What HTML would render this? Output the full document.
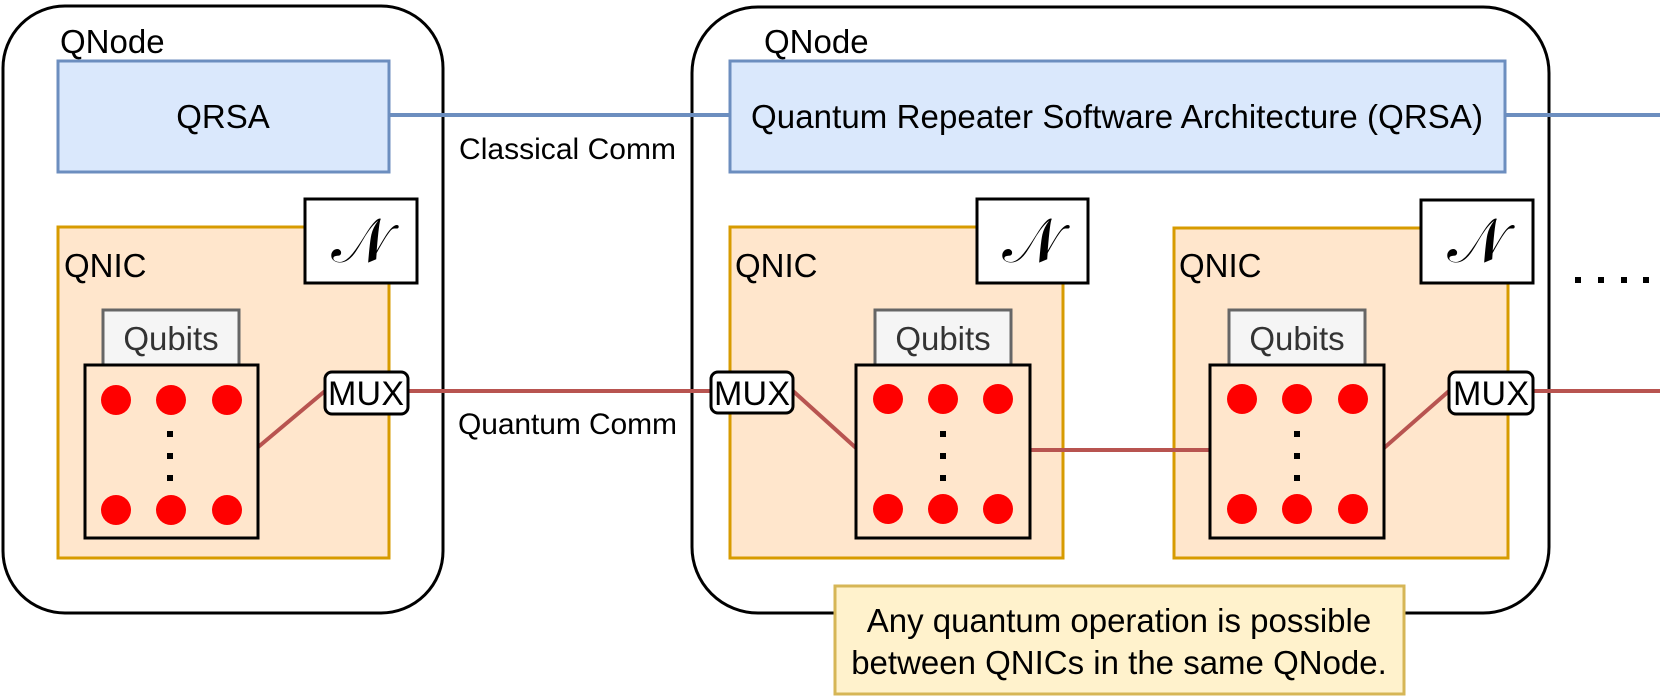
<!DOCTYPE html>
<html><head><meta charset="utf-8"><style>
html,body{margin:0;padding:0;background:#fff;}
svg{display:block;}
text{font-family:"Liberation Sans",Arial,sans-serif;fill:#000;}
</style></head><body>
<svg width="1660" height="696" viewBox="0 0 1660 696" xmlns="http://www.w3.org/2000/svg">
<rect x="3" y="6" width="440" height="607" rx="62" fill="#fff" stroke="#000" stroke-width="3"/>
<rect x="692" y="7" width="857" height="606" rx="66" fill="#fff" stroke="#000" stroke-width="3"/>
<text x="60" y="53" font-size="33">QNode</text>
<text x="764" y="53" font-size="33">QNode</text>

<line x1="389" y1="115" x2="730" y2="115" stroke="#6c8ebf" stroke-width="4"/>
<line x1="1505" y1="115" x2="1660" y2="115" stroke="#6c8ebf" stroke-width="4"/>
<text x="459" y="159" font-size="30" textLength="217">Classical Comm</text>
<text x="458" y="434" font-size="30" textLength="219">Quantum Comm</text>

<rect x="58" y="61" width="331" height="111" fill="#dae8fc" stroke="#6c8ebf" stroke-width="3"/>
<text x="223" y="128" font-size="33" text-anchor="middle">QRSA</text>
<rect x="730" y="61" width="775" height="111" fill="#dae8fc" stroke="#6c8ebf" stroke-width="3"/>
<text x="1117" y="128" font-size="33" text-anchor="middle" textLength="732">Quantum Repeater Software Architecture (QRSA)</text>

<rect x="58" y="227" width="331" height="331" fill="#ffe6cc" stroke="#d79b00" stroke-width="3"/>
<rect x="730" y="227" width="333" height="331" fill="#ffe6cc" stroke="#d79b00" stroke-width="3"/>
<rect x="1174" y="228" width="334" height="330" fill="#ffe6cc" stroke="#d79b00" stroke-width="3"/>
<text x="64" y="277" font-size="33">QNIC</text>
<text x="735" y="277" font-size="33">QNIC</text>
<text x="1179" y="277" font-size="33">QNIC</text>

<g stroke="#000" stroke-width="3" fill="#fff">
<rect x="305" y="199" width="112" height="84"/>
<rect x="977" y="199" width="111" height="84"/>
<rect x="1421" y="200" width="112" height="83"/>
</g>
<g font-size="62">
<text x="361" y="262" text-anchor="middle" font-family="DejaVu Sans,serif">𝒩</text>
<text x="1032" y="262" text-anchor="middle" font-family="DejaVu Sans,serif">𝒩</text>
<text x="1477" y="262" text-anchor="middle" font-family="DejaVu Sans,serif">𝒩</text>
</g>

<g stroke="#b85450" stroke-width="4">
<line x1="408" y1="391" x2="711" y2="391"/>
<line x1="1533" y1="391" x2="1660" y2="391"/>
<line x1="257" y1="448" x2="325" y2="391"/>
<line x1="793" y1="391" x2="856" y2="448"/>
<line x1="1030" y1="450" x2="1210" y2="450"/>
<line x1="1384" y1="448" x2="1449" y2="391"/>
</g>

<g fill="#f5f5f5" stroke="#666" stroke-width="3">
<rect x="103" y="310" width="136" height="55"/>
<rect x="875" y="310" width="136" height="55"/>
<rect x="1229" y="310" width="136" height="55"/>
</g>
<g font-size="33" text-anchor="middle">
<text x="171" y="350" style="fill:#333">Qubits</text>
<text x="943" y="350" style="fill:#333">Qubits</text>
<text x="1297" y="350" style="fill:#333">Qubits</text>
</g>

<g fill="#ffe6cc" stroke="#000" stroke-width="3">
<rect x="85" y="365" width="173" height="173"/>
<rect x="856" y="365" width="174" height="173"/>
<rect x="1210" y="365" width="174" height="173"/>
</g>
<g fill="#ff0000">
<circle cx="116" cy="400" r="15"/><circle cx="171" cy="400" r="15"/><circle cx="227" cy="400" r="15"/>
<circle cx="116" cy="510" r="15"/><circle cx="171" cy="510" r="15"/><circle cx="227" cy="510" r="15"/>
<circle cx="888" cy="399" r="15"/><circle cx="943" cy="399" r="15"/><circle cx="998" cy="399" r="15"/>
<circle cx="888" cy="509" r="15"/><circle cx="943" cy="509" r="15"/><circle cx="998" cy="509" r="15"/>
<circle cx="1242" cy="399" r="15"/><circle cx="1297" cy="399" r="15"/><circle cx="1353" cy="399" r="15"/>
<circle cx="1242" cy="509" r="15"/><circle cx="1297" cy="509" r="15"/><circle cx="1353" cy="509" r="15"/>
</g>
<g fill="#000">
<rect x="167" y="431" width="6" height="6"/><rect x="167" y="453" width="6" height="6"/><rect x="167" y="475" width="6" height="6"/>
<rect x="940" y="431" width="6" height="6"/><rect x="940" y="453" width="6" height="6"/><rect x="940" y="475" width="6" height="6"/>
<rect x="1294" y="431" width="6" height="6"/><rect x="1294" y="453" width="6" height="6"/><rect x="1294" y="475" width="6" height="6"/>
<rect x="1575" y="277" width="6" height="6"/><rect x="1598" y="277" width="6" height="6"/><rect x="1621" y="277" width="6" height="6"/><rect x="1643" y="277" width="6" height="6"/>
</g>

<g fill="#fff" stroke="#000" stroke-width="3">
<rect x="325" y="372" width="83" height="42" rx="7"/>
<rect x="711" y="372" width="82" height="41" rx="7"/>
<rect x="1449" y="372" width="84" height="42" rx="7"/>
</g>
<g font-size="34" text-anchor="middle">
<text x="366" y="405" textLength="76">MUX</text>
<text x="752" y="405" textLength="76">MUX</text>
<text x="1491" y="405" textLength="76">MUX</text>
</g>

<rect x="835" y="586" width="569" height="108" fill="#fff2cc" stroke="#d6b656" stroke-width="3"/>
<text x="1119" y="632" font-size="33" text-anchor="middle">Any quantum operation is possible</text>
<text x="1119" y="674" font-size="33" text-anchor="middle">between QNICs in the same QNode.</text>
</svg>
</body></html>
